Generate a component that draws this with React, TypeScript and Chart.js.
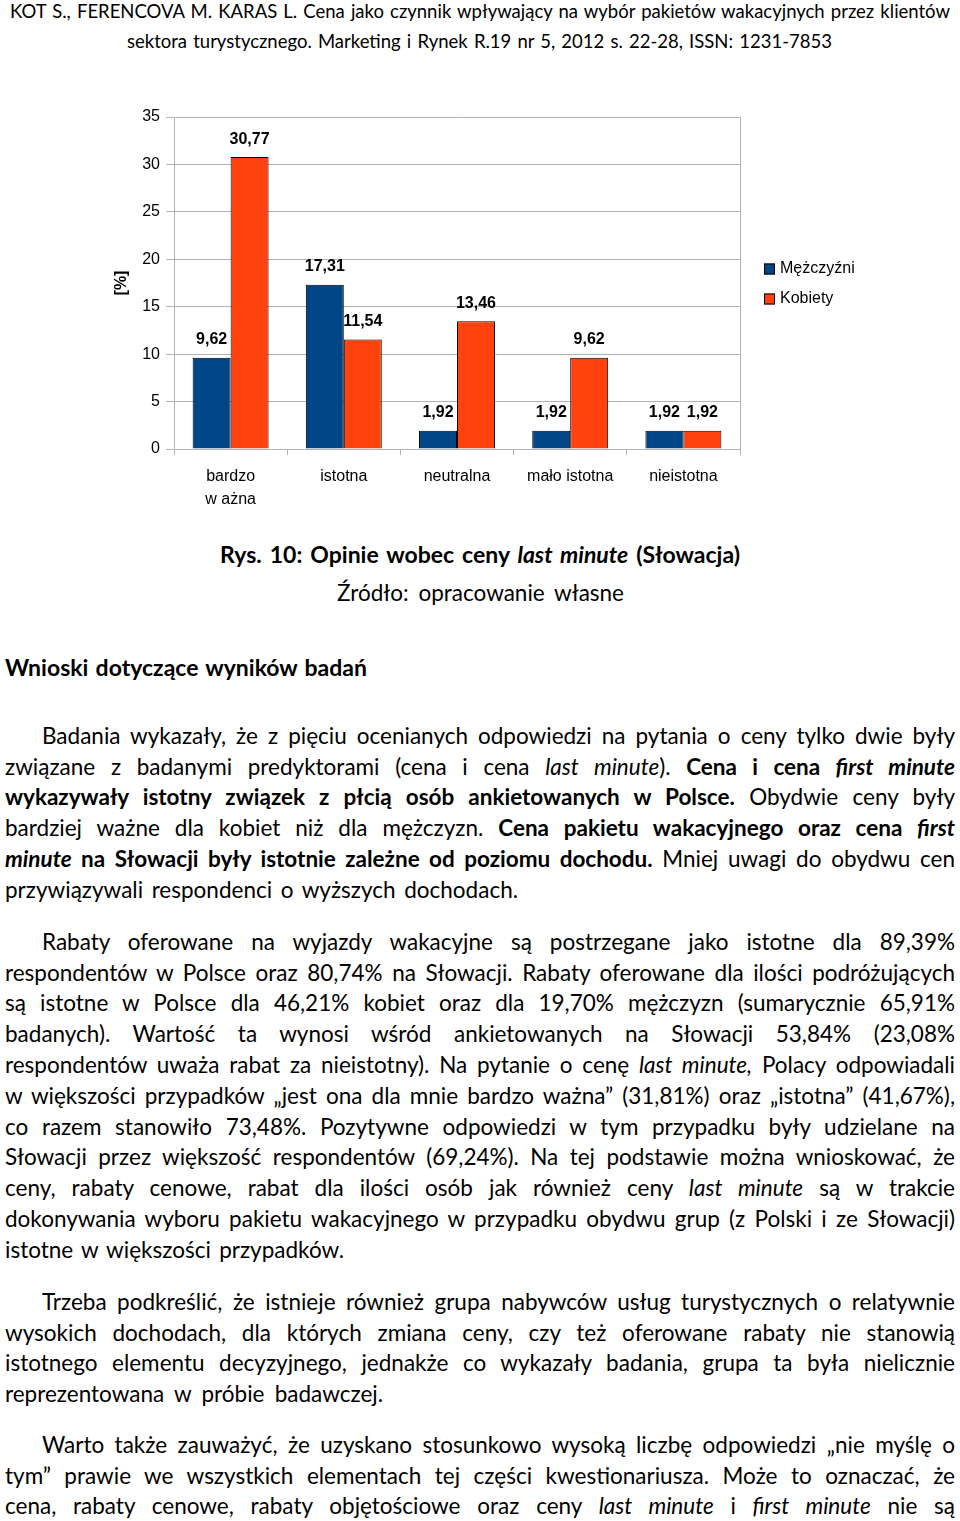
import React, { useEffect, useLayoutEffect, useRef } from 'react';
import { Chart, registerables } from 'chart.js';

Chart.register(...registerables);

// ---------- chart data ----------
const categories: (string | string[])[] = [['bardzo', 'w ażna'], 'istotna', 'neutralna', 'mało istotna', 'nieistotna'];
const seriesNames = ['Mężczyźni', 'Kobiety'];
const menValues = [9.62, 17.31, 1.92, 1.92, 1.92];
const womenValues = [30.77, 11.54, 13.46, 9.62, 1.92];
const seriesColors = ['#004586', '#ff420e'];
const yMin = 0;
const yMax = 35;
const yStep = 5;
const yTitle = '[%]';

const GRID = '#b3b3b3';
const CHART_FONT = '"Liberation Sans", Arial, sans-serif';
const TEXT_FONT = 'Lato, "Open Sans", sans-serif';

const fmt = (v: number) => v.toFixed(2).replace('.', ',');

const valueLabels = {
  id: 'valueLabels',
  afterDatasetsDraw(chart: any) {
    const { ctx } = chart;
    ctx.save();
    ctx.font = `bold 16px ${CHART_FONT}`;
    ctx.fillStyle = '#000';
    ctx.textAlign = 'center';
    ctx.textBaseline = 'middle';
    chart.data.datasets.forEach((ds: any, di: number) => {
      const meta = chart.getDatasetMeta(di);
      meta.data.forEach((el: any, i: number) => {
        ctx.fillText(fmt(ds.data[i]), el.x, el.y - 18);
      });
    });
    ctx.restore();
  },
};

const sideLegend = {
  id: 'sideLegend',
  afterDraw(chart: any) {
    const { ctx, chartArea } = chart;
    const cy = (chartArea.top + chartArea.bottom) / 2;
    const x = chartArea.right + 24;
    ctx.save();
    ctx.font = `16px ${CHART_FONT}`;
    ctx.textBaseline = 'middle';
    ctx.textAlign = 'left';
    chart.data.datasets.forEach((ds: any, i: number) => {
      const y = cy - 14 + i * 30;
      ctx.fillStyle = ds.backgroundColor;
      ctx.fillRect(x, y - 5.5, 11, 11);
      ctx.strokeStyle = '#000';
      ctx.lineWidth = 1;
      ctx.strokeRect(x + 0.5, y - 5, 10, 10);
      ctx.fillStyle = '#000';
      ctx.fillText(ds.label, x + 16, y);
    });
    ctx.restore();
  },
};

function BarChart() {
  const ref = useRef<HTMLCanvasElement>(null);
  useEffect(() => {
    if (!ref.current) return;
    const chart = new Chart(ref.current, {
      type: 'bar',
      data: {
        labels: categories,
        datasets: [
          { label: seriesNames[0], data: menValues, backgroundColor: seriesColors[0], borderColor: '#000', borderWidth: 1 },
          { label: seriesNames[1], data: womenValues, backgroundColor: seriesColors[1], borderColor: '#000', borderWidth: 1 },
        ],
      },
      options: {
        responsive: false,
        animation: false,
        layout: { padding: { top: 22, right: 160, left: 0, bottom: 0 } },
        datasets: { bar: { categoryPercentage: 0.671, barPercentage: 1 } },
        plugins: { legend: { display: false }, tooltip: { enabled: false } },
        scales: {
          x: {
            grid: {
              offset: true,
              drawOnChartArea: true,
              color: (c: any) => (c.type === 'scale' ? GRID : 'rgba(0,0,0,0)'),
              tickColor: GRID,
              tickLength: 6,
            },
            border: { color: GRID, width: 1 },
            ticks: { color: '#000', padding: 10, font: { family: CHART_FONT, size: 16, lineHeight: 1.45 }, maxRotation: 0, autoSkip: false },
            afterFit: (s: any) => { s.height = 76; },
          },
          y: {
            min: yMin,
            max: yMax,
            ticks: { stepSize: yStep, color: '#000', padding: 6, font: { family: CHART_FONT, size: 16 } },
            grid: { color: GRID, tickColor: GRID, tickLength: 8 },
            border: { color: GRID, width: 1 },
            title: { display: true, text: yTitle, color: '#000', font: { family: CHART_FONT, size: 16, weight: 'bold' }, padding: { top: 12, bottom: 0 } },
            afterFit: (s: any) => { s.width = 74; },
          },
        },
      },
      plugins: [valueLabels, sideLegend],
    });
    return () => chart.destroy();
  }, []);
  return <canvas ref={ref} width={800} height={430} style={{ position: 'absolute', left: 100, top: 95 }} />;
}

// ---------- text helpers ----------
const BODY_LH = 30.8;
const BODY_SIZE = 22.5;

type LineProps = { base: number; left: number; width: number; size?: number; bold?: boolean; children: React.ReactNode; lh?: number };
function Line({ base, left, width, size = BODY_SIZE, bold, children, lh = BODY_LH }: LineProps) {
  const ref = useRef<HTMLDivElement>(null);
  useLayoutEffect(() => {
    const el = ref.current;
    if (!el) return;
    const inner = el.firstElementChild as HTMLElement;
    const fit = () => {
      inner.style.transform = '';
      inner.style.whiteSpace = 'nowrap';
      inner.style.display = 'inline-block';
      inner.style.width = 'auto';
      const natural = inner.getBoundingClientRect().width;
      if (natural > width) {
        inner.style.transformOrigin = 'left top';
        inner.style.transform = `scaleX(${width / natural})`;
      } else {
        inner.style.whiteSpace = 'normal';
        inner.style.display = 'block';
        inner.style.width = `${width}px`;
      }
    };
    fit();
    if ((document as any).fonts && (document as any).fonts.ready) (document as any).fonts.ready.then(fit);
  }, []);
  const top = base - (lh - 1.2 * size) / 2 - 0.987 * size;
  return (
    <div
      ref={ref}
      style={{
        position: 'absolute',
        top,
        left,
        width,
        height: lh,
        fontSize: size,
        lineHeight: `${lh}px`,
        fontWeight: bold ? 700 : 400,
        overflow: 'visible',
      }}
    >
      <span style={{ textAlign: 'justify', textAlignLast: 'justify' as any }}>{children}</span>
    </div>
  );
}

const L = 5;
const W = 950;
const IND = 42;
const IW = 913;

export default function App() {
  const s = BODY_LH;
  const p1 = 745;
  const p2 = 951;
  const p3 = 1311;
  const p4 = 1454;
  return (
    <div style={{ position: 'absolute', left: 0, top: 0, width: 960, height: 1521, background: '#fff', color: '#000', fontFamily: TEXT_FONT, overflow: 'hidden' }}>
      <Line base={18.5} left={10} width={940} size={18.5} lh={28}>KOT S., FERENCOVA M. KARAS L. Cena jako czynnik wpływający na wybór pakietów wakacyjnych przez klientów</Line>
      <Line base={48} left={127} width={705} size={18.5} lh={28}>sektora turystycznego. Marketing i Rynek R.19 nr 5, 2012 s. 22-28, ISSN: 1231-7853</Line>

      <BarChart />

      <Line base={563} left={220} width={520} size={23} bold>Rys. 10: Opinie wobec ceny <i>last minute</i> (Słowacja)</Line>
      <Line base={602} left={337} width={287} size={22.5}>Źródło: opracowanie własne</Line>
      <Line base={676} left={5} width={362} size={23} bold>Wnioski dotyczące wyników badań</Line>

      <Line base={p1} left={IND} width={IW}>Badania wykazały, że z pięciu ocenianych odpowiedzi na pytania o ceny tylko dwie były</Line>
      <Line base={p1 + s} left={L} width={W}>związane z badanymi predyktorami (cena i cena <i>last minute</i>). <b>Cena i cena <i>first minute</i></b></Line>
      <Line base={p1 + 2 * s} left={L} width={W}><b>wykazywały istotny związek z płcią osób ankietowanych w Polsce.</b> Obydwie ceny były</Line>
      <Line base={p1 + 3 * s} left={L} width={W}>bardziej ważne dla kobiet niż dla mężczyzn. <b>Cena pakietu wakacyjnego oraz cena <i>first</i></b></Line>
      <Line base={p1 + 4 * s} left={L} width={W}><b><i>minute</i> na Słowacji były istotnie zależne od poziomu dochodu.</b> Mniej uwagi do obydwu cen</Line>
      <Line base={p1 + 5 * s} left={L} width={513}>przywiązywali respondenci o wyższych dochodach.</Line>

      <Line base={p2} left={IND} width={IW}>Rabaty oferowane na wyjazdy wakacyjne są postrzegane jako istotne dla 89,39%</Line>
      <Line base={p2 + s} left={L} width={W}>respondentów w Polsce oraz 80,74% na Słowacji. Rabaty oferowane dla ilości podróżujących</Line>
      <Line base={p2 + 2 * s} left={L} width={W}>są istotne w Polsce dla 46,21% kobiet oraz dla 19,70% mężczyzn (sumarycznie 65,91%</Line>
      <Line base={p2 + 3 * s} left={L} width={W}>badanych). Wartość ta wynosi wśród ankietowanych na Słowacji 53,84% (23,08%</Line>
      <Line base={p2 + 4 * s} left={L} width={W}>respondentów uważa rabat za nieistotny). Na pytanie o cenę <i>last minute,</i> Polacy odpowiadali</Line>
      <Line base={p2 + 5 * s} left={L} width={W}>w większości przypadków „jest ona dla mnie bardzo ważna” (31,81%) oraz „istotna” (41,67%),</Line>
      <Line base={p2 + 6 * s} left={L} width={W}>co razem stanowiło 73,48%. Pozytywne odpowiedzi w tym przypadku były udzielane na</Line>
      <Line base={p2 + 7 * s} left={L} width={W}>Słowacji przez większość respondentów (69,24%). Na tej podstawie można wnioskować, że</Line>
      <Line base={p2 + 8 * s} left={L} width={W}>ceny, rabaty cenowe, rabat dla ilości osób jak również ceny <i>last minute</i> są w trakcie</Line>
      <Line base={p2 + 9 * s} left={L} width={W}>dokonywania wyboru pakietu wakacyjnego w przypadku obydwu grup (z Polski i ze Słowacji)</Line>
      <Line base={p2 + 10 * s} left={L} width={339}>istotne w większości przypadków.</Line>

      <Line base={p3} left={IND} width={IW}>Trzeba podkreślić, że istnieje również grupa nabywców usług turystycznych o relatywnie</Line>
      <Line base={p3 + s} left={L} width={W}>wysokich dochodach, dla których zmiana ceny, czy też oferowane rabaty nie stanowią</Line>
      <Line base={p3 + 2 * s} left={L} width={W}>istotnego elementu decyzyjnego, jednakże co wykazały badania, grupa ta była nielicznie</Line>
      <Line base={p3 + 3 * s} left={L} width={378}>reprezentowana w próbie badawczej.</Line>

      <Line base={p4} left={IND} width={IW}>Warto także zauważyć, że uzyskano stosunkowo wysoką liczbę odpowiedzi „nie myślę o</Line>
      <Line base={p4 + s} left={L} width={W}>tym” prawie we wszystkich elementach tej części kwestionariusza. Może to oznaczać, że</Line>
      <Line base={p4 + 2 * s} left={L} width={W}>cena, rabaty cenowe, rabaty objętościowe oraz ceny <i>last minute</i> i <i>first minute</i> nie są</Line>
    </div>
  );
}
